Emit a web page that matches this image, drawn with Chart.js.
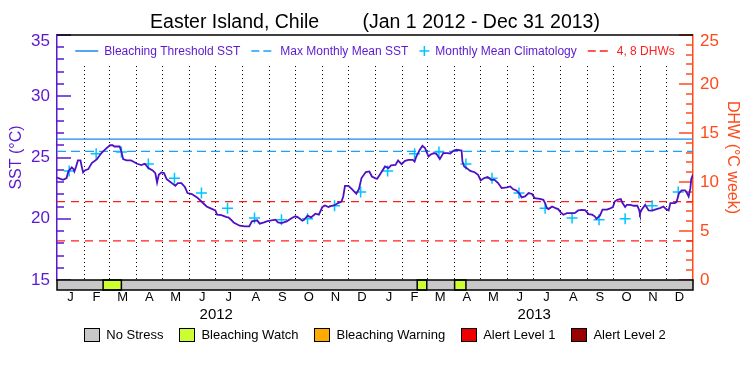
<!DOCTYPE html>
<html>
<head>
<meta charset="utf-8">
<script src="https://cdn.jsdelivr.net/npm/chart.js@4/dist/chart.umd.min.js"></script>
<style>
  body { margin: 0; background: #fff; }
  #wrap { position: relative; width: 750px; height: 375px; }
  #stressLegend {
    position: absolute; left: 0; top: 327px; width: 750px;
    display: flex; justify-content: center; align-items: center;
    font: 13px "Liberation Sans", Arial, sans-serif; color: #000;
  }
  #stressLegend .item { display: flex; align-items: center; margin: 0 8px; }
  #stressLegend .box { width: 16px; height: 14px; border: 1px solid #000; box-sizing: border-box; margin-right: 6px; }
</style>
</head>
<body>
<div id="wrap">
  <canvas id="chart" width="750" height="375"></canvas>
  <div id="stressLegend"></div>
</div>
<script>
// day index 0 = Jan 1 2012, 731 = Jan 1 2014
const monthStarts = [0, 31, 60, 91, 121, 152, 182, 213, 244, 274, 305, 335,
  366, 397, 425, 456, 486, 517, 547, 578, 609, 639, 670, 700, 731];
const monthLetters = ['J','F','M','A','M','J','J','A','S','O','N','D',
  'J','F','M','A','M','J','J','A','S','O','N','D'];
const years = ['2012', '2013'];
const yearMid = [183, 548.5];

// SST (degC)
const sstDay = [0, 4, 7, 11, 13, 17, 19, 20, 22, 24, 27, 28, 30, 32, 36, 40, 46, 51, 57, 61, 64, 66, 72, 74, 76, 80, 85, 88, 92, 97,
  101, 105, 110, 113, 115, 117, 120, 123, 126, 132, 136, 139, 143, 147, 150, 155, 161, 166, 172, 176, 182, 184, 189, 195, 197, 200, 203, 210, 216, 221,
  224, 230, 233, 238, 241, 245, 251, 254, 258, 264, 270, 274, 277, 282, 284, 288, 292, 297, 301, 305, 308, 312, 316, 320, 323, 327, 329, 331, 335, 339,
  344, 347, 350, 355, 359, 362, 366, 368, 371, 377, 381, 384, 389, 392, 396, 400, 404, 409, 411, 413, 417, 420, 423, 427, 429, 433, 436, 440, 444, 449,
  452, 456, 459, 465, 466, 468, 471, 475, 480, 484, 487, 491, 495, 499, 503, 507, 511, 517, 521, 524, 528, 532, 534, 538, 542, 546, 549, 555, 559, 561,
  563, 565, 569, 573, 576, 579, 582, 586, 595, 599, 603, 607, 611, 615, 618, 620, 624, 627, 632, 635, 639, 641, 644, 648, 650, 653, 655, 659, 663, 667,
  669, 670, 672, 676, 680, 684, 689, 693, 697, 700, 703, 705, 710, 712, 715, 718, 722, 724, 726, 728, 729, 731];
const sstVal = [23.37, 23.25, 23.18, 23.32, 23.86, 24.2, 24.05, 23.86, 24.27, 24.76, 24.76, 24.4, 23.78, 23.94, 24.05, 24.54, 24.87, 25.36, 25.77, 26.0, 26.0, 25.9, 25.9, 25.49, 24.87, 24.76, 24.76, 24.65, 24.49, 24.38,
  24.49, 24.13, 23.94, 23.72, 22.96, 23.59, 23.78, 23.73, 23.24, 22.91, 22.69, 22.91, 22.91, 22.59, 22.1, 22.02, 21.74, 21.41, 21.0, 20.87, 20.68, 20.33, 20.3, 20.14, 20.11, 19.92, 19.7, 19.43, 19.38, 19.38,
  19.79, 19.87, 19.6, 19.7, 19.79, 19.84, 19.92, 19.7, 19.65, 19.79, 20.06, 20.2, 20.11, 19.84, 19.92, 20.25, 20.11, 20.41, 20.33, 20.96, 21.09, 20.96, 21.06, 21.14, 21.28, 21.41, 21.82, 22.69, 22.69, 22.42,
  22.04, 22.42, 23.32, 23.81, 23.86, 23.45, 23.3, 23.26, 23.59, 24.27, 24.13, 24.35, 24.4, 24.76, 24.46, 24.73, 24.81, 24.81, 24.67, 25.08, 25.63, 25.95, 25.77, 25.08, 25.22, 25.36, 25.3, 24.87, 25.36, 25.36,
  25.33, 25.57, 25.63, 25.57, 24.67, 24.27, 24.13, 23.91, 23.8, 23.59, 23.13, 23.32, 23.4, 23.18, 23.18, 22.91, 22.5, 22.56, 22.64, 22.42, 22.31, 22.02, 21.74, 21.82, 22.1, 22.02, 21.69, 21.63, 21.55, 21.28,
  20.87, 20.79, 21.0, 20.87, 20.79, 20.52, 20.33, 20.46, 20.46, 20.68, 20.72, 20.7, 20.38, 20.33, 20.2, 20.0, 20.25, 20.74, 20.74, 20.82, 20.96, 21.41, 21.55, 21.61, 21.28, 20.96, 21.14, 21.14, 21.06, 21.06,
  20.74, 20.41, 20.74, 21.14, 20.68, 20.66, 20.79, 20.87, 21.0, 20.79, 20.68, 21.28, 21.28, 21.36, 22.1, 22.31, 22.31, 22.1, 21.82, 22.5, 23.24, 23.6];

// monthly mean climatology, plotted mid-month each year
const climDay = [14, 45, 74, 105, 135, 166, 196, 227, 258, 288, 319, 349,
  380, 411, 439, 470, 500, 531, 561, 592, 623, 653, 684, 714];
const climVal = [23.9, 25.3, 25.45, 24.46, 23.3, 22.1, 20.85, 20.06, 19.92, 20.0, 21.06, 22.18];

const bleachThreshold = 26.5;
const maxMonthlyMean = 25.5;
const dhwLevels = [4, 8];

// stress level periods [startDay, endDay, level]
const stressStart = [53, 414, 457];
const stressEnd = [74, 425, 470];
const stressLevel = [1, 1, 1];
const stressNames = ['No Stress', 'Bleaching Watch', 'Bleaching Warning', 'Alert Level 1', 'Alert Level 2'];
const stressColors = ['#c8c8c8', '#ccff33', '#ffaa00', '#ee0000', '#990000'];

const PURPLE = '#5a18d0';
const LINE_PURPLE = '#4e10c4';
const ORANGE = '#ff4a1a';
const BLUE = '#1a88ee';
const LIGHT_BLUE = '#1aa0ff';
const CYAN = '#00c4ff';
const RED = '#ff1e1e';
const FONT = '"Liberation Sans", Arial, sans-serif';

Chart.defaults.font.family = FONT;
Chart.defaults.color = '#000';

const hline = (v, x0, x1) => [{x: x0, y: v}, {x: x1, y: v}];
const dayMax = monthStarts[monthStarts.length - 1];

// little legend glyphs: [width, gap to text, draw]
const glyphs = {
  solid: [23, 6, (ctx, x, y, c) => { ctx.strokeStyle = c; ctx.beginPath(); ctx.moveTo(x, y); ctx.lineTo(x + 23, y); ctx.stroke(); }],
  dash: [20, 9, (ctx, x, y, c) => {
    ctx.strokeStyle = c; ctx.beginPath();
    ctx.moveTo(x, y); ctx.lineTo(x + 8, y); ctx.moveTo(x + 12, y); ctx.lineTo(x + 20, y); ctx.stroke();
  }],
  plus: [10, 6, (ctx, x, y, c) => {
    ctx.strokeStyle = c; ctx.beginPath();
    ctx.moveTo(x, y); ctx.lineTo(x + 10, y); ctx.moveTo(x + 5, y - 5); ctx.lineTo(x + 5, y + 5); ctx.stroke();
  }]
};

const extras = {
  id: 'extras',
  beforeDatasetsDraw(chart) {
    const {ctx, chartArea: a, scales: {x, y, y2}} = chart;
    ctx.save();
    // dotted month dividers, below the key
    ctx.strokeStyle = '#000';
    ctx.lineWidth = 1;
    ctx.setLineDash([1, 3]);
    const top = a.top + 31;
    monthStarts.slice(1, -1).forEach(d => {
      const px = Math.round(x.getPixelForValue(d)) + 0.5;
      ctx.beginPath(); ctx.moveTo(px, top); ctx.lineTo(px, a.bottom); ctx.stroke();
    });
    ctx.setLineDash([]);
    // inward ticks
    ctx.lineWidth = 1.5;
    ctx.strokeStyle = PURPLE;
    for (let v = y.min; v <= y.max; v++) {
      const py = Math.round(y.getPixelForValue(v));
      ctx.beginPath(); ctx.moveTo(a.left, py); ctx.lineTo(a.left + (v % 5 === 0 ? 14 : 7), py); ctx.stroke();
    }
    ctx.strokeStyle = ORANGE;
    for (let v = y2.min; v <= y2.max; v++) {
      const py = Math.round(y2.getPixelForValue(v));
      ctx.beginPath(); ctx.moveTo(a.right, py); ctx.lineTo(a.right - (v % 5 === 0 ? 14 : 7), py); ctx.stroke();
    }
    // key along the top of the plot
    const items = chart.data.datasets.filter(ds => ds.legendText)
      .sort((p, q) => p.legendOrder - q.legendOrder);
    ctx.font = '12px ' + FONT;
    ctx.textBaseline = 'middle';
    ctx.textAlign = 'left';
    const itemGap = 11;
    const widths = items.map(ds => glyphs[ds.legendKind][0] + glyphs[ds.legendKind][1] + ctx.measureText(ds.legendText).width);
    const total = widths.reduce((s, w) => s + w, 0) + itemGap * (items.length - 1);
    let cx = (a.left + a.right) / 2 - total / 2;
    const cy = a.top + 16;
    items.forEach((ds, i) => {
      const [gw, gap, draw] = glyphs[ds.legendKind];
      ctx.lineWidth = 1.5;
      draw(ctx, cx, cy, ds.borderColor);
      ctx.fillStyle = ds.legendColor;
      ctx.fillText(ds.legendText, cx + gw + gap, cy + 1);
      cx += widths[i] + itemGap;
    });
    ctx.restore();
  },
  afterDatasetsDraw(chart) {
    const {ctx, chartArea: a, scales: {x}} = chart;
    ctx.save();
    // top frame
    ctx.strokeStyle = '#000';
    ctx.lineWidth = 1.5;
    ctx.beginPath(); ctx.moveTo(a.left, a.top); ctx.lineTo(a.right, a.top); ctx.stroke();
    // stress bar under the plot
    const by = a.bottom, bh = 10;
    const x0 = x.getPixelForValue(0), x1 = x.getPixelForValue(dayMax);
    ctx.fillStyle = stressColors[0];
    ctx.fillRect(x0, by, x1 - x0, bh);
    stressStart.forEach((s, i) => {
      const p0 = x.getPixelForValue(s), p1 = x.getPixelForValue(stressEnd[i]);
      ctx.fillStyle = stressColors[stressLevel[i]];
      ctx.fillRect(p0, by, p1 - p0, bh);
      ctx.strokeRect(p0, by, p1 - p0, bh);
    });
    ctx.strokeRect(x0, by, x1 - x0, bh);
    ctx.restore();
  }
};

new Chart(document.getElementById('chart'), {
  type: 'line',
  data: {
    datasets: [
      {
        data: sstDay.map((d, i) => ({x: d, y: sstVal[i]})),
        borderColor: LINE_PURPLE, borderWidth: 1.8, pointRadius: 0, yAxisID: 'y'
      },
      {
        data: climDay.map((d, i) => ({x: d, y: climVal[i % 12]})),
        showLine: false, pointStyle: 'cross', pointRadius: 5.5, pointBorderWidth: 1.5,
        borderColor: CYAN, yAxisID: 'y',
        legendText: 'Monthly Mean Climatology', legendColor: PURPLE, legendKind: 'plus', legendOrder: 2
      },
      {
        data: hline(bleachThreshold, 0, dayMax),
        borderColor: BLUE, borderWidth: 1.2, pointRadius: 0, yAxisID: 'y',
        legendText: 'Bleaching Threshold SST', legendColor: PURPLE, legendKind: 'solid', legendOrder: 0
      },
      {
        data: hline(maxMonthlyMean, 0, dayMax),
        borderColor: LIGHT_BLUE, borderWidth: 1.2, borderDash: [9, 5], pointRadius: 0, yAxisID: 'y',
        legendText: 'Max Monthly Mean SST', legendColor: PURPLE, legendKind: 'dash', legendOrder: 1
      },
      {
        data: hline(dhwLevels[1], 0, dayMax),
        borderColor: RED, borderWidth: 1.2, borderDash: [8, 6], pointRadius: 0, yAxisID: 'y2',
        legendText: dhwLevels.join(', ') + ' DHWs', legendColor: RED, legendKind: 'dash', legendOrder: 3
      },
      {
        data: hline(dhwLevels[0], 0, dayMax),
        borderColor: RED, borderWidth: 1.2, borderDash: [8, 6], pointRadius: 0, yAxisID: 'y2'
      }
    ]
  },
  options: {
    responsive: false,
    animation: false,
    layout: { padding: { top: 0, left: 0, right: 0, bottom: 50 } },
    plugins: {
      title: {
        display: true,
        text: 'Easter Island, Chile        (Jan 1 2012 - Dec 31 2013)',
        font: { size: 19.5, weight: 'normal', lineHeight: '20px' },
        color: '#000',
        padding: { top: 13, bottom: 2 }
      },
      legend: { display: false },
      tooltip: { enabled: false }
    },
    scales: {
      x: {
        type: 'linear', position: 'bottom', min: 0, max: dayMax, weight: 0,
        afterBuildTicks: s => {
          s.ticks = monthStarts.slice(0, -1).map((d, i) => ({value: (d + monthStarts[i + 1]) / 2}));
        },
        afterFit: s => { s.height = 25; },
        ticks: {
          autoSkip: false, maxRotation: 0, padding: 10,
          font: { size: 13 }, color: '#000',
          callback: (v, i) => monthLetters[i]
        },
        grid: { display: false, drawTicks: false },
        border: { display: false }
      },
      x2: {
        type: 'linear', position: 'bottom', min: 0, max: dayMax, weight: 1,
        afterBuildTicks: s => { s.ticks = yearMid.map(v => ({value: v})); },
        afterFit: s => { s.height = 20; },
        ticks: {
          autoSkip: false, maxRotation: 0, padding: 1,
          font: { size: 15 }, color: '#000',
          callback: (v, i) => years[i]
        },
        grid: { display: false, drawTicks: false },
        border: { display: false }
      },
      y: {
        type: 'linear', position: 'left', min: 15, max: 35,
        afterFit: s => { s.width = 57; },
        ticks: {
          stepSize: 5, padding: 7, color: PURPLE,
          font: { size: 17, lineHeight: 0.7 },
          callback: v => v === 35 ? ['', String(v)] : String(v)
        },
        grid: { display: false, drawTicks: false },
        border: { color: PURPLE, width: 1.5 },
        title: {
          display: true, text: 'SST (°C)', color: PURPLE,
          font: { size: 16 }, padding: { top: 7, bottom: 0 }
        }
      },
      y2: {
        type: 'linear', position: 'right', min: 0, max: 25,
        afterFit: s => { s.width = 57; },
        ticks: {
          stepSize: 5, padding: 7, color: ORANGE,
          font: { size: 17, lineHeight: 0.7 },
          callback: v => v === 25 ? ['', String(v)] : String(v)
        },
        grid: { display: false, drawTicks: false },
        border: { color: ORANGE, width: 1.5 },
        title: {
          display: true, text: 'DHW (°C week)', color: ORANGE,
          font: { size: 16 }, padding: { top: 8, bottom: 0 }
        }
      }
    }
  },
  plugins: [extras]
});

// stress level key under the chart
const key = document.getElementById('stressLegend');
stressNames.forEach((name, i) => {
  const item = document.createElement('div');
  item.className = 'item';
  const box = document.createElement('span');
  box.className = 'box';
  box.style.background = stressColors[i];
  const label = document.createElement('span');
  label.textContent = name;
  item.appendChild(box);
  item.appendChild(label);
  key.appendChild(item);
});
</script>
</body>
</html>
